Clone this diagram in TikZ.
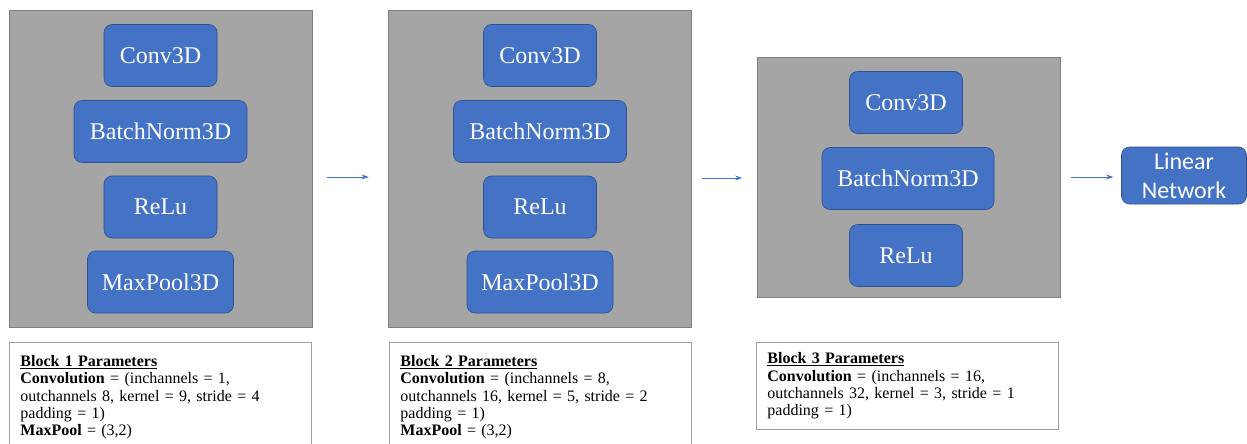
\documentclass[tikz,border=0pt]{standalone}
\usepackage{fontspec}
\setmainfont{Liberation Serif}
\newfontfamily\calibri{Carlito}
\usetikzlibrary{arrows.meta}
\definecolor{blockgray}{HTML}{A5A5A5}
\definecolor{blockedge}{HTML}{7F7F7F}
\definecolor{layerblue}{HTML}{4472C4}
\definecolor{layeredge}{HTML}{2F528F}
\definecolor{paredge}{HTML}{A0A0A0}

\begin{document}
\begin{tikzpicture}[x=1pt, y=-1pt]
\tikzset{blockbox/.style={draw=blockedge, fill=blockgray, line width=0.8pt, minimum width=303pt},
  layer/.style={draw=layeredge, fill=layerblue, rounded corners=8pt, line width=0.6pt, text=white, font=\fontsize{24}{28}\selectfont, minimum height=62pt},
  parbox/.style={draw=paredge, line width=0.8pt, anchor=north west, minimum width=302pt, text width=280pt, align=left, inner xsep=11pt, inner ysep=8pt, font=\fontsize{16}{17.3}\selectfont},
  flow/.style={draw=layerblue, line width=0.8pt, -{Stealth[length=7pt, width=5pt]}}}
\clip (0, 0) rectangle (1247, 444);
\fill[white] (0, 0) rectangle (1247, 444);
% block 1
\node[blockbox, minimum height=317pt] (blk1) at (160.5, 168.5) {};
\node[layer, minimum width=113pt] (conv1) at (160.5, 55.5) {Conv3D};
\node[layer, minimum width=173pt] (bn1) at (160.5, 131.5) {BatchNorm3D};
\node[layer, minimum width=113pt] (relu1) at (160.5, 207) {ReLu};
\node[layer, minimum width=146pt] (pool1) at (160.5, 282) {MaxPool3D};
% block 2
\node[blockbox, minimum height=317pt] (blk2) at (539.5, 168.5) {};
\node[layer, minimum width=113pt] (conv2) at (540, 55.5) {Conv3D};
\node[layer, minimum width=173pt] (bn2) at (540, 131.5) {BatchNorm3D};
\node[layer, minimum width=113pt] (relu2) at (540, 207) {ReLu};
\node[layer, minimum width=146pt] (pool2) at (540, 282) {MaxPool3D};
% block 3
\node[blockbox, minimum height=240pt] (blk3) at (909, 177) {};
\node[layer, minimum width=113pt] (conv3) at (906, 102.5) {Conv3D};
\node[layer, minimum width=172pt] (bn3) at (908, 178.5) {BatchNorm3D};
\node[layer, minimum width=113pt] (relu3) at (906, 255.5) {ReLu};
% linear network
\node[layer, minimum width=125pt, minimum height=57pt, font=\calibri\fontsize{24}{29}\selectfont, align=center] (linear) at (1184, 175.5) {Linear\\Network};
\draw[flow] ([xshift=15pt, yshift=-8.5pt]blk1.east) -- ([xshift=-19pt, yshift=-8.5pt]blk2.west);
\draw[flow] ([xshift=11pt, yshift=-9.5pt]blk2.east) -- ([xshift=-15pt, yshift=-1pt]blk3.west);
\draw[flow] ([xshift=10pt]blk3.east) -- ([xshift=-8pt]blk3.east -| linear.west);
% parameters
\node[parbox, minimum height=110pt] (par1) at (9, 342) {\underline{\textbf{Block 1 Parameters}}\\
\textbf{Convolution} = (inchannels = 1,\\
outchannels 8, kernel = 9, stride = 4\\
padding = 1)\\
\textbf{MaxPool} = (3,2)};
\node[parbox, minimum height=110pt] (par2) at (389, 342) {\underline{\textbf{Block 2 Parameters}}\\
\textbf{Convolution} = (inchannels = 8,\\
outchannels 16, kernel = 5, stride = 2\\
padding = 1)\\
\textbf{MaxPool} = (3,2)};
\node[parbox, minimum height=87pt] (par3) at (756, 342) {\underline{\textbf{Block 3 Parameters}}\\
\textbf{Convolution} = (inchannels = 16,\\
outchannels 32, kernel = 3, stride = 1\\
padding = 1)};
\end{tikzpicture}
\end{document}
